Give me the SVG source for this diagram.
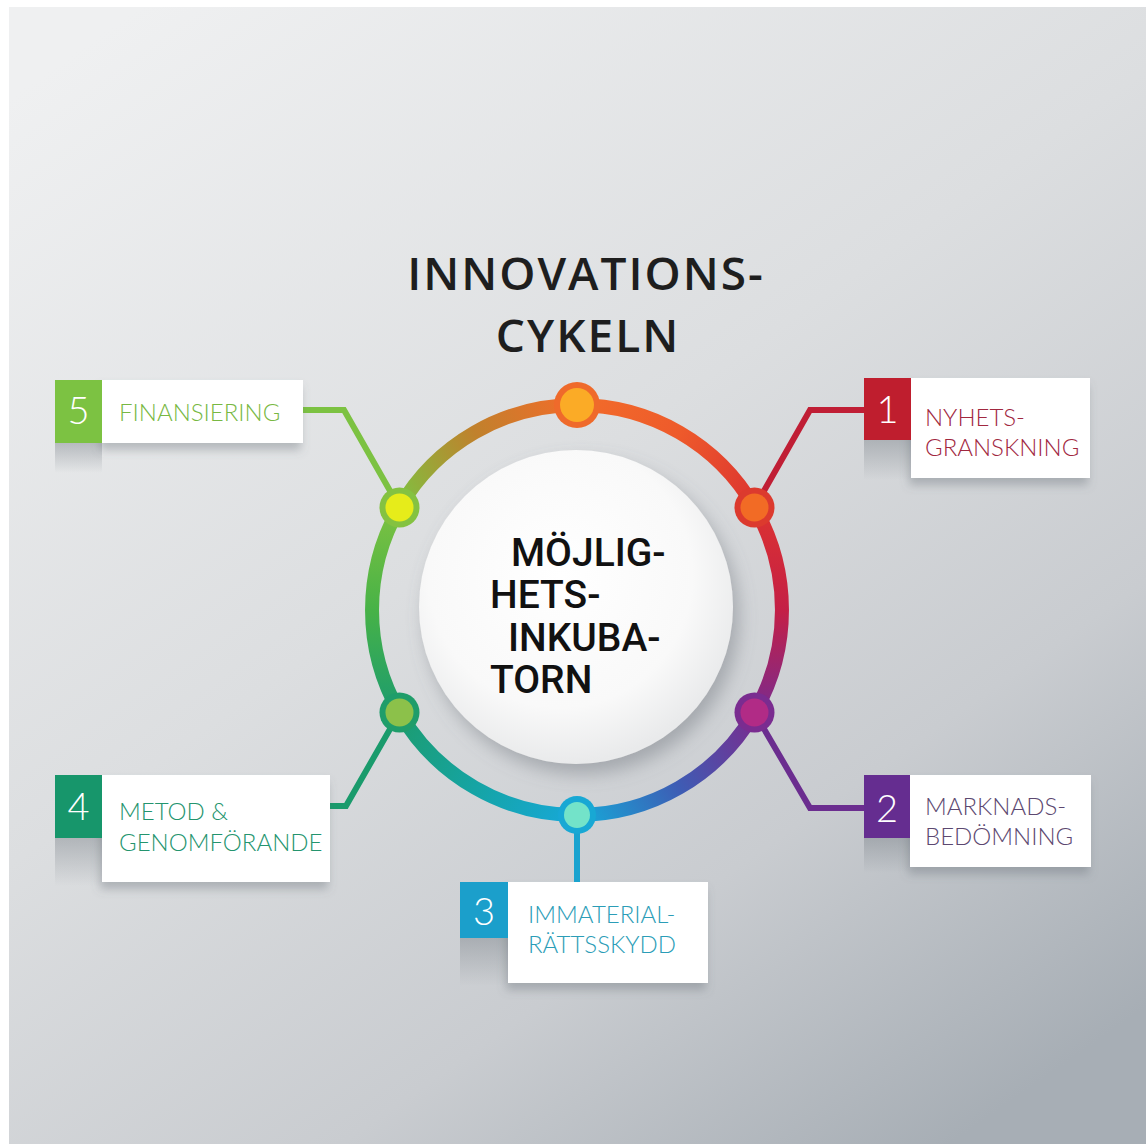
<svg xmlns="http://www.w3.org/2000/svg" width="1146" height="1144" viewBox="0 0 1146 1144">
<defs>
<linearGradient id="bg" gradientUnits="userSpaceOnUse" x1="150" y1="0" x2="950" y2="1144">
<stop offset="0" stop-color="#eff0f1"/>
<stop offset="0.45" stop-color="#dcdee0"/>
<stop offset="0.75" stop-color="#c9ccd0"/>
<stop offset="1" stop-color="#a7aeb5"/>
</linearGradient>
<radialGradient id="disc" cx="0.45" cy="0.4" r="0.6">
<stop offset="0" stop-color="#ffffff"/>
<stop offset="0.7" stop-color="#f9f9f9"/>
<stop offset="1" stop-color="#e9eaeb"/>
</radialGradient>
<linearGradient id="a1" gradientUnits="userSpaceOnUse" x1="577" y1="405" x2="754.5" y2="507.5"><stop offset="0" stop-color="#f26c2a"/><stop offset="0.5" stop-color="#ee5a2b"/><stop offset="1" stop-color="#dc3330"/></linearGradient>
<linearGradient id="a2" gradientUnits="userSpaceOnUse" x1="754.5" y1="507.5" x2="754.5" y2="712.5"><stop offset="0" stop-color="#dc3330"/><stop offset="0.5" stop-color="#c41f46"/><stop offset="1" stop-color="#7a2b8e"/></linearGradient>
<linearGradient id="a3" gradientUnits="userSpaceOnUse" x1="754.5" y1="712.5" x2="577" y2="815"><stop offset="0" stop-color="#7a2b8e"/><stop offset="0.5" stop-color="#3e5cb4"/><stop offset="1" stop-color="#17a8d8"/></linearGradient>
<linearGradient id="a4" gradientUnits="userSpaceOnUse" x1="577" y1="815" x2="399.5" y2="712.5"><stop offset="0" stop-color="#17a8d8"/><stop offset="0.5" stop-color="#15a4a4"/><stop offset="1" stop-color="#1c9c6e"/></linearGradient>
<linearGradient id="a5" gradientUnits="userSpaceOnUse" x1="399.5" y1="712.5" x2="399.5" y2="507.5"><stop offset="0" stop-color="#1c9c6e"/><stop offset="0.5" stop-color="#47b247"/><stop offset="1" stop-color="#7ec241"/></linearGradient>
<linearGradient id="a6" gradientUnits="userSpaceOnUse" x1="399.5" y1="507.5" x2="577" y2="405"><stop offset="0" stop-color="#7ec241"/><stop offset="0.5" stop-color="#c0812c"/><stop offset="1" stop-color="#f26c2a"/></linearGradient>
<linearGradient id="ls" x1="0" y1="0" x2="0" y2="1"><stop offset="0" stop-color="#7d848b" stop-opacity="0.45"/><stop offset="1" stop-color="#7d848b" stop-opacity="0"/></linearGradient>
<filter id="sh" x="-20%" y="-20%" width="140%" height="160%"><feDropShadow dx="-2" dy="7" stdDeviation="5" flood-color="#5f666d" flood-opacity="0.35"/></filter>
<filter id="dsh" x="-20%" y="-20%" width="150%" height="150%"><feDropShadow dx="6" dy="10" stdDeviation="9" flood-color="#6d737a" flood-opacity="0.45"/></filter>
</defs>
<style>
.arc{fill:none;stroke-width:14}
.con{fill:none;stroke-width:6}
.num{font-family:Lato,"Open Sans",sans-serif;font-weight:300;font-size:38px;fill:#ffffff;text-anchor:middle}
.lbl{font-family:Lato,"Open Sans",sans-serif;font-weight:300;font-size:24px}
.box{fill:#ffffff}
.title{font-family:"Open Sans","Liberation Sans",sans-serif;font-weight:600;font-size:46px;letter-spacing:2px;fill:#1e1e1e;text-anchor:middle}
.hub{font-family:Roboto,"Liberation Sans",sans-serif;font-weight:500;font-size:39px;fill:#111111}
</style>
<rect width="1146" height="1144" fill="#ffffff"/>
<rect x="9" y="7" width="1137" height="1137" fill="url(#bg)"/>

<g id="title">
<text class="title" x="586" y="290">INNOVATIONS-</text>
<text class="title" x="588" y="352">CYKELN</text>
</g>

<g id="connectors">
<path class="con" stroke="#7cc242" d="M303,410 H344 L399.5,507.5"/>
<path class="con" stroke="#c01e35" d="M754.5,507.5 L810,410 H864"/>
<path class="con" stroke="#6b2d8f" d="M754.5,712.5 L810,808 H864"/>
<path class="con" stroke="#1a9b6c" d="M330,806 H346 L399.5,712.5"/>
<path class="con" stroke="#1aa3cf" stroke-width="8" d="M577,815 V883"/>
</g>

<g id="ring">
<path class="arc" stroke="url(#a1)" d="M577,405 A205,205 0 0 1 754.5,507.5"/>
<path class="arc" stroke="url(#a2)" d="M754.5,507.5 A205,205 0 0 1 754.5,712.5"/>
<path class="arc" stroke="url(#a3)" d="M754.5,712.5 A205,205 0 0 1 577,815"/>
<path class="arc" stroke="url(#a4)" d="M577,815 A205,205 0 0 1 399.5,712.5"/>
<path class="arc" stroke="url(#a5)" d="M399.5,712.5 A205,205 0 0 1 399.5,507.5"/>
<path class="arc" stroke="url(#a6)" d="M399.5,507.5 A205,205 0 0 1 577,405"/>
<circle cx="577" cy="405" r="23" fill="#ef6a2b"/><circle cx="577" cy="405" r="17" fill="#fbab26"/>
<circle cx="754.5" cy="507.5" r="20" fill="#dc3a2e"/><circle cx="754.5" cy="507.5" r="14" fill="#f26b25"/>
<circle cx="754.5" cy="712.5" r="20" fill="#7a2c90"/><circle cx="754.5" cy="712.5" r="14" fill="#b12b86"/>
<circle cx="577" cy="815" r="19" fill="#18a8d4"/><circle cx="577" cy="815" r="13" fill="#73e3c9"/>
<circle cx="399.5" cy="712.5" r="20" fill="#1f9d6a"/><circle cx="399.5" cy="712.5" r="14" fill="#8cc14a"/>
<circle cx="399.5" cy="507.5" r="20" fill="#84c241"/><circle cx="399.5" cy="507.5" r="14" fill="#e6ec1a"/>
</g>

<g id="hub">
<circle cx="576" cy="607" r="157" fill="url(#disc)" filter="url(#dsh)"/>
<text class="hub" x="511" y="566">MÖJLIG-</text>
<text class="hub" x="490" y="608">HETS-</text>
<text class="hub" x="508" y="651">INKUBA-</text>
<text class="hub" x="490" y="693">TORN</text>
</g>

<g id="step5">
<rect x="55" y="443" width="47" height="30" fill="url(#ls)"/>
<rect class="box" x="102" y="380" width="201" height="63" filter="url(#sh)"/>
<rect x="55" y="380" width="47" height="63" fill="#7cc242"/>
<text class="num" x="78.5" y="424">5</text>
<text class="lbl" x="119" y="421" fill="#78b843">FINANSIERING</text>
</g>

<g id="step1">
<rect x="864" y="440" width="47" height="40" fill="url(#ls)"/>
<rect class="box" x="911" y="378" width="179" height="100" filter="url(#sh)"/>
<rect x="864" y="378" width="47" height="62" fill="#bf1e2e"/>
<text class="num" x="887.5" y="423">1</text>
<text class="lbl" x="925" y="426" fill="#a1283f">NYHETS-</text>
<text class="lbl" x="925" y="456" fill="#a1283f">GRANSKNING</text>
</g>

<g id="step2">
<rect x="864" y="838" width="46" height="35" fill="url(#ls)"/>
<rect class="box" x="910" y="775" width="181" height="92" filter="url(#sh)"/>
<rect x="864" y="775" width="46" height="63" fill="#652d90"/>
<text class="num" x="887" y="822">2</text>
<text class="lbl" x="925" y="815" fill="#5c4870">MARKNADS-</text>
<text class="lbl" x="925" y="845" fill="#5c4870">BEDÖMNING</text>
</g>

<g id="step3">
<rect x="460" y="938" width="48" height="48" fill="url(#ls)"/>
<rect class="box" x="508" y="882" width="200" height="101" filter="url(#sh)"/>
<rect x="460" y="882" width="48" height="56" fill="#1b9fcb"/>
<text class="num" x="484" y="925">3</text>
<text class="lbl" x="528" y="923" fill="#2b9db7">IMMATERIAL-</text>
<text class="lbl" x="528" y="953" fill="#2b9db7">RÄTTSSKYDD</text>
</g>

<g id="step4">
<rect x="55" y="838" width="47" height="48" fill="url(#ls)"/>
<rect class="box" x="102" y="775" width="228" height="107" filter="url(#sh)"/>
<rect x="55" y="775" width="47" height="63" fill="#17966b"/>
<text class="num" x="78.5" y="820">4</text>
<text class="lbl" x="119" y="820" fill="#24946e">METOD &amp;</text>
<text class="lbl" x="119" y="851" fill="#24946e">GENOMFÖRANDE</text>
</g>
</svg>
